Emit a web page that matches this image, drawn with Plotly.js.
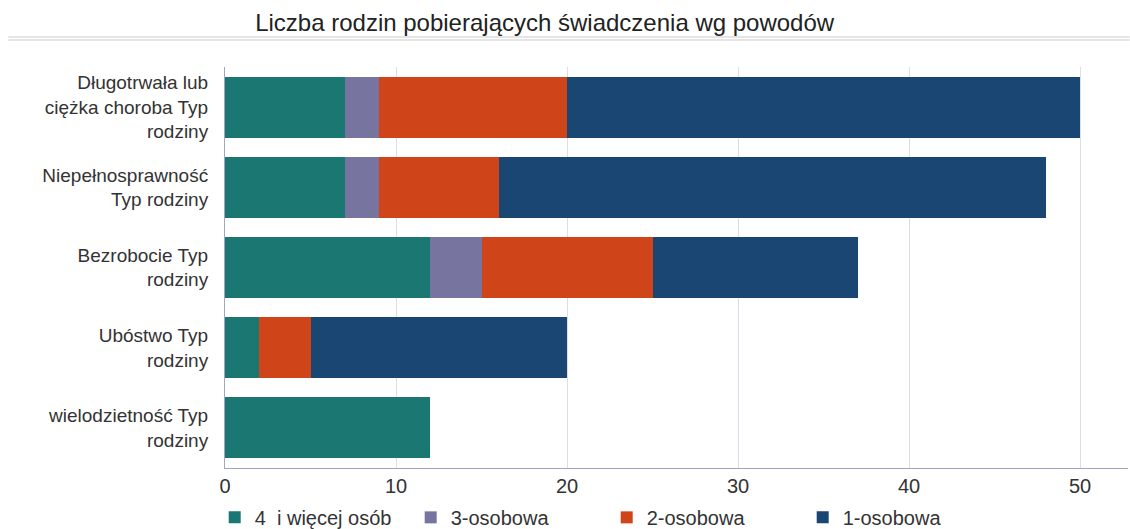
<!DOCTYPE html>
<html>
<head>
<meta charset="utf-8">
<script src="https://cdn.plot.ly/plotly-3.0.1.min.js"></script>
<style>
  html, body { margin: 0; padding: 0; background: #fff; }
  #chart { width: 1130px; height: 529px; }
</style>
</head>
<body>
<div id="chart"></div>
<script>
// kategorie (od góry)
const categories = [
  'Długotrwała lub<br>ciężka choroba Typ<br>rodziny',
  'Niepełnosprawność<br>Typ rodziny',
  'Bezrobocie Typ<br>rodziny',
  'Ubóstwo Typ<br>rodziny',
  'wielodzietność Typ<br>rodziny'
];

// wartości serii
const fourPlus = [7, 7, 12, 2, 12];
const three    = [2, 2, 3, 0, 0];
const two      = [11, 7, 10, 3, 0];
const one      = [30, 32, 12, 15, 0];

const seriesNames  = ['4\u00a0 i więcej osób', '3-osobowa', '2-osobowa', '1-osobowa'];
const seriesColors = ['#1b7772', '#77749f', '#cf4419', '#1a4674'];
const seriesValues = [fourPlus, three, two, one];

const tickVals = [0, 10, 20, 30, 40, 50];

const data = seriesValues.map((vals, i) => ({
  type: 'bar',
  orientation: 'h',
  name: seriesNames[i],
  x: vals,
  y: categories,
  marker: { color: seriesColors[i], line: { width: 0 } },
  hoverinfo: 'skip'
}));

const layout = {
  width: 1130,
  height: 529,
  barmode: 'stack',
  bargap: 0.24,
  margin: { l: 225, r: 2, t: 67, b: 61 },
  paper_bgcolor: '#fff',
  plot_bgcolor: '#fff',
  font: { family: 'Liberation Sans, Arial, sans-serif', color: '#333', size: 19 },
  title: {
    text: 'Liczba rodzin pobierających świadczenia wg powodów',
    font: { size: 24, color: '#222' },
    x: 0.482, xanchor: 'center',
    y: 0.958, yanchor: 'middle', yref: 'container'
  },
  xaxis: {
    range: [0, 52.8],
    tickvals: tickVals,
    showgrid: true,
    gridcolor: '#dddde8',
    gridwidth: 1,
    zeroline: false,
    showline: true,
    linecolor: '#a3a3c2',
    linewidth: 1,
    ticks: '',
    ticklabelstandoff: 0,
    tickfont: { size: 20, color: '#333' }
  },
  yaxis: {
    categoryorder: 'array',
    categoryarray: categories.slice().reverse(),
    showline: true,
    linecolor: '#a3a3c2',
    linewidth: 1,
    showgrid: false,
    ticks: '',
    ticklabelstandoff: 12,
    tickfont: { size: 19, color: '#333' }
  },
  legend: {
    orientation: 'h',
    xref: 'container', yref: 'container',
    x: 0.19, xanchor: 'left',
    y: 0.022, yanchor: 'middle',
    entrywidth: 151,
    entrywidthmode: 'pixels',
    itemwidth: 30,
    traceorder: 'normal',
    font: { size: 20, color: '#333' }
  },
  shapes: [
    { type: 'line', xref: 'paper', yref: 'paper', x0: -0.24, x1: 1.002, y0: 1.0748, y1: 1.0748,
      line: { color: '#dcdcdc', width: 1.5 } },
    { type: 'line', xref: 'paper', yref: 'paper', x0: -0.24, x1: 1.002, y0: 1.0673, y1: 1.0673,
      line: { color: '#dcdcdc', width: 1.5 } }
  ]
};

Plotly.newPlot('chart', data, layout, { displayModeBar: false, staticPlot: true });
</script>
</body>
</html>
